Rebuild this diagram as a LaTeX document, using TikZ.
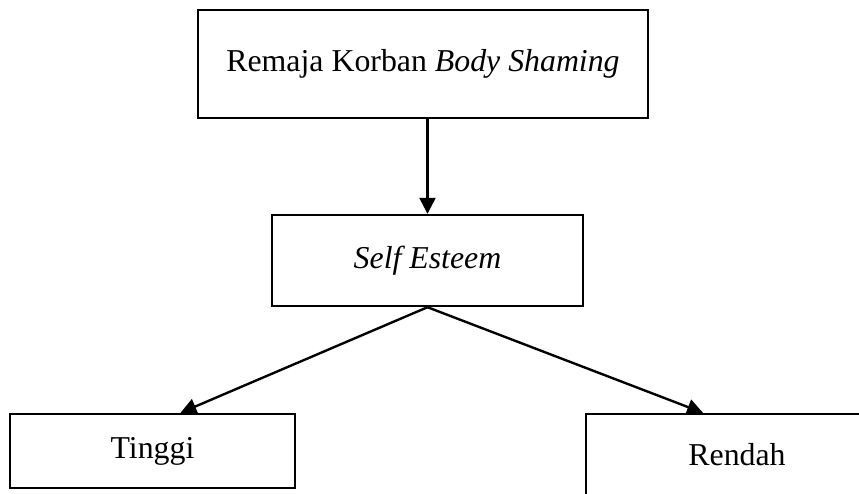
\documentclass[tikz,border=0pt]{standalone}
\usepackage{fontspec}
\setmainfont{Liberation Serif}
\usetikzlibrary{arrows.meta}
\newlength\pxu
\setlength\pxu{0.377pt}
\begin{document}
\begin{tikzpicture}[x=\pxu,y=-\pxu,
  kotak/.style={draw,line width=0.9pt,font=\fontsize{12}{14}\selectfont,inner sep=0pt},
  panah/.style={line width=0.9pt,-{Triangle[length=6pt,width=6pt]}}]
\useasboundingbox (0,0) rectangle (859,493);
\clip (0,0) rectangle (859,493);
\node[kotak,minimum width=450\pxu,minimum height=108\pxu] (korban) at (423,64) {Remaja Korban \textit{Body Shaming}};
\node[kotak,minimum width=311\pxu,minimum height=91\pxu] (esteem) at (427.5,260.5) {\textit{Self Esteem}};
\node[kotak,minimum width=285\pxu,minimum height=74\pxu] (tinggi) at (152.5,451) {Tinggi};
\node[kotak,minimum width=302\pxu,minimum height=82\pxu] (rendah) at (737,455) {Rendah};
\draw[panah] (esteem.north |- korban.south) -- (esteem.north);
\draw[panah] (esteem.south) -- ([xshift=28\pxu]tinggi.north);
\draw[panah] (esteem.south) -- ([xshift=-34\pxu]rendah.north);
\end{tikzpicture}
\end{document}
